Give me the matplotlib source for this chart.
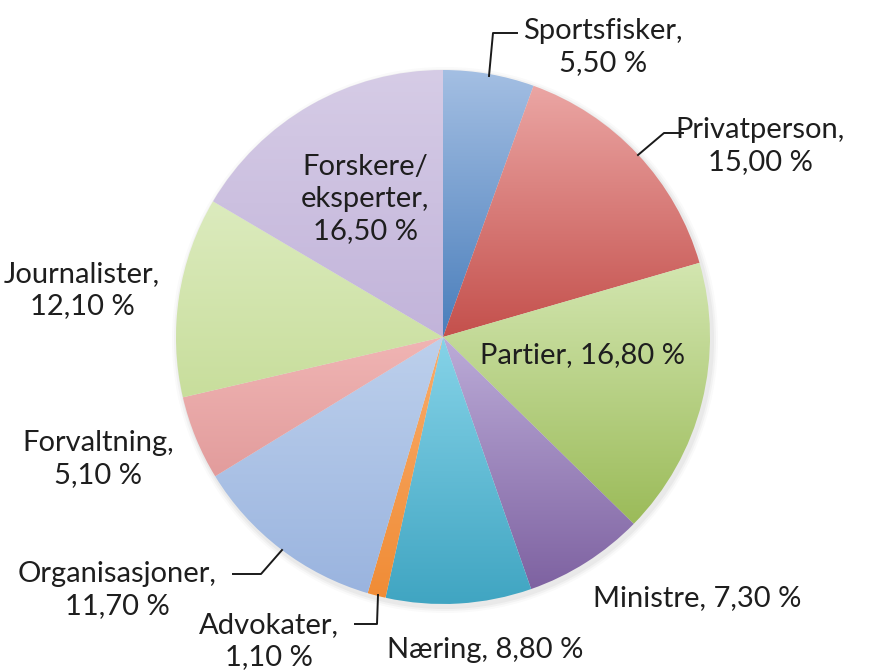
import numpy as np
import matplotlib.pyplot as plt
from matplotlib.colors import LinearSegmentedColormap
from matplotlib.patches import Circle

# Share of sources by group (percent)
groups = ["Sportsfisker", "Privatperson", "Partier", "Ministre", "Næring",
          "Advokater", "Organisasjoner", "Forvaltning", "Journalister",
          "Forskere/\neksperter"]
shares = [5.5, 15.0, 16.8, 7.3, 8.8, 1.1, 11.7, 5.1, 12.1, 16.5]

# light (top) -> dark (bottom) fill for each slice
tops = ["#a4bfe3", "#eba6a4", "#d3e6b0", "#bcacd8", "#86d3e8",
        "#f9ac6a", "#bdd0ec", "#f0b5b4", "#dcebbe", "#d6cce6"]
bottoms = ["#4a7ebb", "#c4504c", "#9bbb59", "#7e62a1", "#40a5c2",
           "#f08c36", "#9ab4df", "#e29c9c", "#c8de9c", "#c2b4da"]

# pie centre and radius in pixels
W, H = 869, 671
cx, cy, r = 443, 337, 267


def px(x, y):
    return (x - cx) / r, (cy - y) / r


fig = plt.figure(figsize=(W / 100, H / 100), dpi=100)
ax = fig.add_axes([0, 0, 1, 1])

# soft shadow under the pie
for k, a in zip([6, 4, 2], [0.04, 0.06, 0.08]):
    ax.add_patch(Circle(px(cx + 2, cy + 3), (r + k) / r, color="#808080",
                        alpha=a, lw=0, zorder=0))

wedges, _ = ax.pie(shares, startangle=90, counterclock=False, radius=1,
                   wedgeprops=dict(linewidth=0))

for w, c1, c2 in zip(wedges, tops, bottoms):
    ext = w.get_path().get_extents()
    cmap = LinearSegmentedColormap.from_list("g", [c2, c1])
    grad = np.linspace(0, 1, 256).reshape(-1, 1)
    im = ax.imshow(grad, cmap=cmap, origin="lower", aspect="auto",
                   extent=[ext.x0, ext.x1, ext.y0, ext.y1],
                   interpolation="bilinear", zorder=2)
    im.set_clip_path(w)
    w.set_facecolor("none")

ax.set_aspect("auto")
ax.set_xlim(-cx / r, (W - cx) / r)
ax.set_ylim((cy - H) / r, cy / r)
ax.axis("off")

plt.rcParams["font.family"] = ["Lato", "DejaVu Sans"]
fs = 21
tc = "#1e1e1e"

labels = [f"{g},\n{s:.2f} %".replace(".", ",") for g, s in zip(groups, shares)]
for i in (2, 3, 4):
    labels[i] = labels[i].replace("\n", " ")

# label anchor positions (pixels)
pos = [(603, 47), (760, 146), (583, 355), (697, 598), (485, 650),
       (269, 641), (117, 590), (98, 459), (82, 290), (365, 199)]
for lab, (x, y) in zip(labels, pos):
    ax.text(*px(x, y), lab, ha="center", va="center", fontsize=fs,
            color=tc, linespacing=1.28, zorder=5)

# leader lines (pixels)
leaders = [
    [(489, 76), (493, 33), (517, 33)],
    [(638, 155), (664, 133), (683, 133)],
    [(378, 595), (377, 624), (355, 624)],
    [(282, 550), (261, 574), (233, 574)],
]
for pts in leaders:
    xy = np.array([px(x, y) for x, y in pts])
    ax.plot(xy[:, 0], xy[:, 1], color="#1a1a1a", lw=1.4, zorder=4)

fig.savefig("out.png", dpi=100)
